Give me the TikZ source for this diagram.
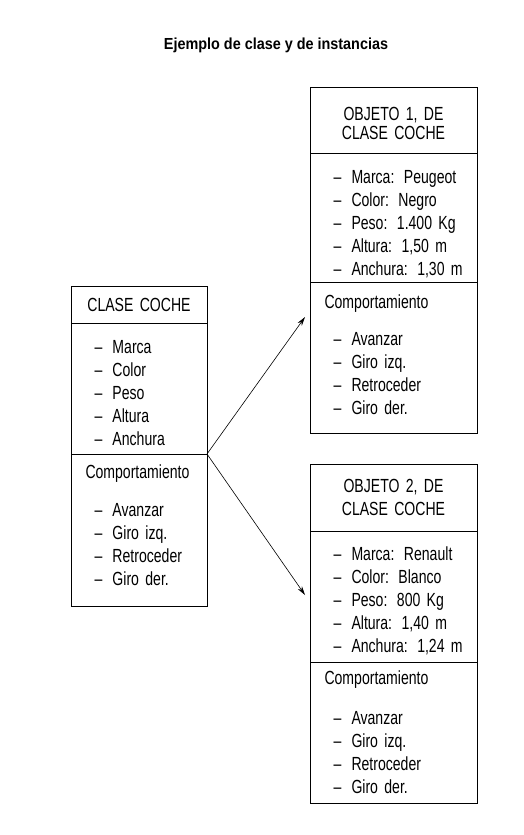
\documentclass[tikz,border=0pt]{standalone}
\usepackage{fontspec}
\setmainfont[FakeStretch=0.74]{Liberation Sans}
\newfontfamily\titlefont[FakeStretch=0.9]{Liberation Sans}
\usetikzlibrary{arrows.meta, positioning}
\newcommand{\itm}[1]{\mbox{\makebox[27pt][l]{\hspace{9pt}--}#1}}
\newcommand{\boxfont}{\fontsize{19pt}{23pt}\selectfont}
\newcommand{\headfont}{\titlefont\bfseries\fontsize{16pt}{19pt}\selectfont}
\begin{document}
\begin{tikzpicture}[x=1pt, y=-1pt,
  sect/.style={draw, line width=0.6pt, outer sep=0pt, inner xsep=14.5pt, inner ysep=2pt, font=\boxfont},
  clsbox/.style={sect, minimum width=136pt, text width=107pt},
  objbox/.style={sect, minimum width=167pt, text width=138pt},
  link/.style={-{Stealth[length=9pt, width=5pt]}, line width=0.6pt}
]
  \useasboundingbox (0,0) rectangle (523,835);

  % Title
  \node[font=\headfont] (title) at (276,45) {Ejemplo de clase y de instancias};

  % Class
  \node[clsbox, minimum height=37pt, align=center] (ctit) at (139,304.5) {CLASE COCHE};
  \node[clsbox, minimum height=131pt, align=left, below=0pt of ctit] (cattr) {\rule{0pt}{22pt}\itm{Marca}\\ \itm{Color}\\ \itm{Peso}\\ \itm{Altura}\\ \itm{Anchura}};
  \node[clsbox, minimum height=152pt, align=left, below=0pt of cattr] (cbeh) {Comportamiento\\[15pt] \itm{Avanzar}\\ \itm{Giro izq.}\\ \itm{Retroceder}\\ \itm{Giro der.}\rule[-9pt]{0pt}{9pt}};

  % Object 1
  \node[objbox, minimum height=66pt, align=center] (otit1) at (393.5,120) {\rule{0pt}{20pt}OBJETO 1, DE\\[-4pt] CLASE COCHE};
  \node[objbox, minimum height=129pt, align=left, below=0pt of otit1] (oattr1) {\rule{0pt}{26pt}\itm{Marca: Peugeot}\\ \itm{Color: Negro}\\ \itm{Peso: 1.400 Kg}\\ \itm{Altura: 1,50 m}\\ \itm{Anchura: 1,30 m}};
  \node[objbox, minimum height=151pt, align=left, below=0pt of oattr1] (obeh1) {Comportamiento\\[14pt] \itm{Avanzar}\\ \itm{Giro izq.}\\ \itm{Retroceder}\\ \itm{Giro der.}\rule[-6pt]{0pt}{6pt}};

  % Object 2
  \node[objbox, minimum height=67pt, align=center] (otit2) at (393.5,497.5) {OBJETO 2, DE\\ CLASE COCHE};
  \node[objbox, minimum height=131pt, align=left, below=0pt of otit2] (oattr2) {\rule{0pt}{23pt}\itm{Marca: Renault}\\ \itm{Color: Blanco}\\ \itm{Peso: 800 Kg}\\ \itm{Altura: 1,40 m}\\ \itm{Anchura: 1,24 m}};
  \node[objbox, minimum height=141pt, align=left, below=0pt of oattr2] (obeh2) {Comportamiento\\[17pt] \itm{Avanzar}\\ \itm{Giro izq.}\\ \itm{Retroceder}\\ \itm{Giro der.}};

  % Instances
  \coordinate (tip1) at (305,317);
  \coordinate (tip2) at (305,595);
  \draw[link] (cattr.south east) -- (tip1);
  \draw[link] (cattr.south east) -- (tip2);
\end{tikzpicture}
\end{document}
